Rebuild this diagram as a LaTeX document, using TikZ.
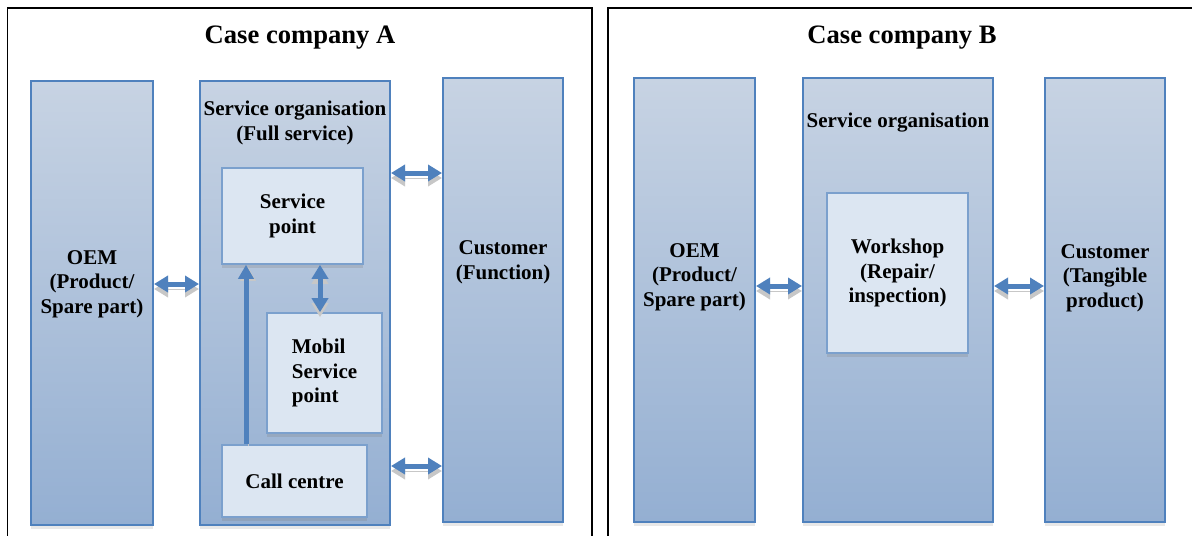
\documentclass[tikz,border=0pt]{standalone}
\usepackage{fontspec}
\setmainfont{Liberation Serif}
\usetikzlibrary{arrows.meta,shadows}
\definecolor{oblue}{HTML}{4F81BD}
\definecolor{coltop}{HTML}{C7D3E3}
\definecolor{colbot}{HTML}{94AFD2}
\definecolor{boxfill}{HTML}{DCE6F2}
\definecolor{boxline}{HTML}{7BA0CD}
\tikzstyle{column}=[rectangle,draw=oblue,line width=1pt,top color=coltop,bottom color=colbot,inner sep=0pt,
  drop shadow={shadow xshift=0pt,shadow yshift=-2pt,opacity=0.18}]
\tikzstyle{unit}=[rectangle,draw=boxline,line width=0.8pt,fill=boxfill,inner sep=0pt,align=center,
  font=\bfseries\fontsize{10.5}{12.3}\selectfont,
  drop shadow={shadow xshift=0pt,shadow yshift=-2pt,opacity=0.25}]
\tikzstyle{lbl}=[align=center,inner sep=0pt,font=\bfseries\fontsize{10.5}{12.3}\selectfont]
\tikzstyle{casetitle}=[inner sep=0pt,font=\bfseries\fontsize{13.3}{16}\selectfont]
\tikzstyle{darr}=[{Triangle[width=8pt,length=7pt]}-{Triangle[width=8pt,length=7pt]},line width=2.5pt,draw=oblue,
  preaction={draw=black!22,transform canvas={yshift=-2.5pt}}]
\tikzstyle{sarr}=[-{Triangle[width=7.5pt,length=7pt]},line width=2.5pt,draw=oblue,
  preaction={draw=black!22,transform canvas={xshift=1pt,yshift=-1pt}}]

\begin{document}
\begin{tikzpicture}[x=0.5pt,y=-0.5pt]
    \useasboundingbox (0,0) rectangle (1192,535);
    \clip (0,0) rectangle (1192,535);
    \fill[white] (0,0) rectangle (1192,535);

    % case company A
    \draw [line width=0.8pt] (7.5,560) -- (7.5,8) -- (592,8) -- (592,560);
    \node (titleA) at (300,38) [casetitle] {Case company A};

    \node (oemA) at (92,303) [column,minimum width=61pt,minimum height=222pt] {};
    \node (orgA) at (295,303) [column,minimum width=95pt,minimum height=222pt] {};
    \node (custA) at (503,300) [column,minimum width=60pt,minimum height=222pt] {};

    \node (oemAtxt) at (92,284) [lbl] {OEM\\(Product/\\Spare part)};
    \node (orgAtxt) at (295,123) [lbl] {Service organisation\\(Full service)};
    \node (custAtxt) at (503,262) [lbl] {Customer\\(Function)};

    \node (spA) at (292.5,216) [unit,minimum width=70.5pt,minimum height=48pt] {Service\\point};
    \node (mspA) at (324.5,373) [unit,minimum width=57.5pt,minimum height=60pt,align=left] {Mobil\\Service\\point};
    \node (ccA) at (294.5,481) [unit,minimum width=72.5pt,minimum height=36pt] {Call centre};

    \coordinate (hiA) at (0,173);
    \coordinate (loA) at (0,466);
    \coordinate (upA) at (246,0);
    \coordinate (mdA) at (320,0);

    \draw [darr] (oemA.east |- oemAtxt) -- (orgA.west |- oemAtxt);
    \draw [darr] (orgA.east |- hiA) -- (custA.west |- hiA);
    \draw [darr] (orgA.east |- loA) -- (custA.west |- loA);
    \draw [sarr] (ccA.north -| upA) -- (spA.south -| upA);
    \draw [darr] (spA.south -| mdA) -- (mspA.north -| mdA);

    % case company B
    \draw [line width=0.8pt] (608,560) -- (608,8) -- (1210,8);
    \node (titleB) at (902,38) [casetitle] {Case company B};

    \node (oemB) at (694.5,300) [column,minimum width=60.5pt,minimum height=222pt] {};
    \node (orgB) at (898,300) [column,minimum width=95pt,minimum height=222pt] {};
    \node (custB) at (1105,300) [column,minimum width=60pt,minimum height=222pt] {};

    \node (oemBtxt) at (694.5,277) [lbl] {OEM\\(Product/\\Spare part)};
    \node (orgBtxt) at (898,123) [lbl] {Service organisation};
    \node (custBtxt) at (1105,278) [lbl] {Customer\\(Tangible\\product)};

    \node (wsB) at (897.5,273) [unit,minimum width=70.5pt,minimum height=80pt] {Workshop\\(Repair/\\inspection)};

    \coordinate (midB) at (0,286);

    \draw [darr] (oemB.east |- midB) -- (orgB.west |- midB);
    \draw [darr] (orgB.east |- midB) -- (custB.west |- midB);
\end{tikzpicture}
\end{document}
